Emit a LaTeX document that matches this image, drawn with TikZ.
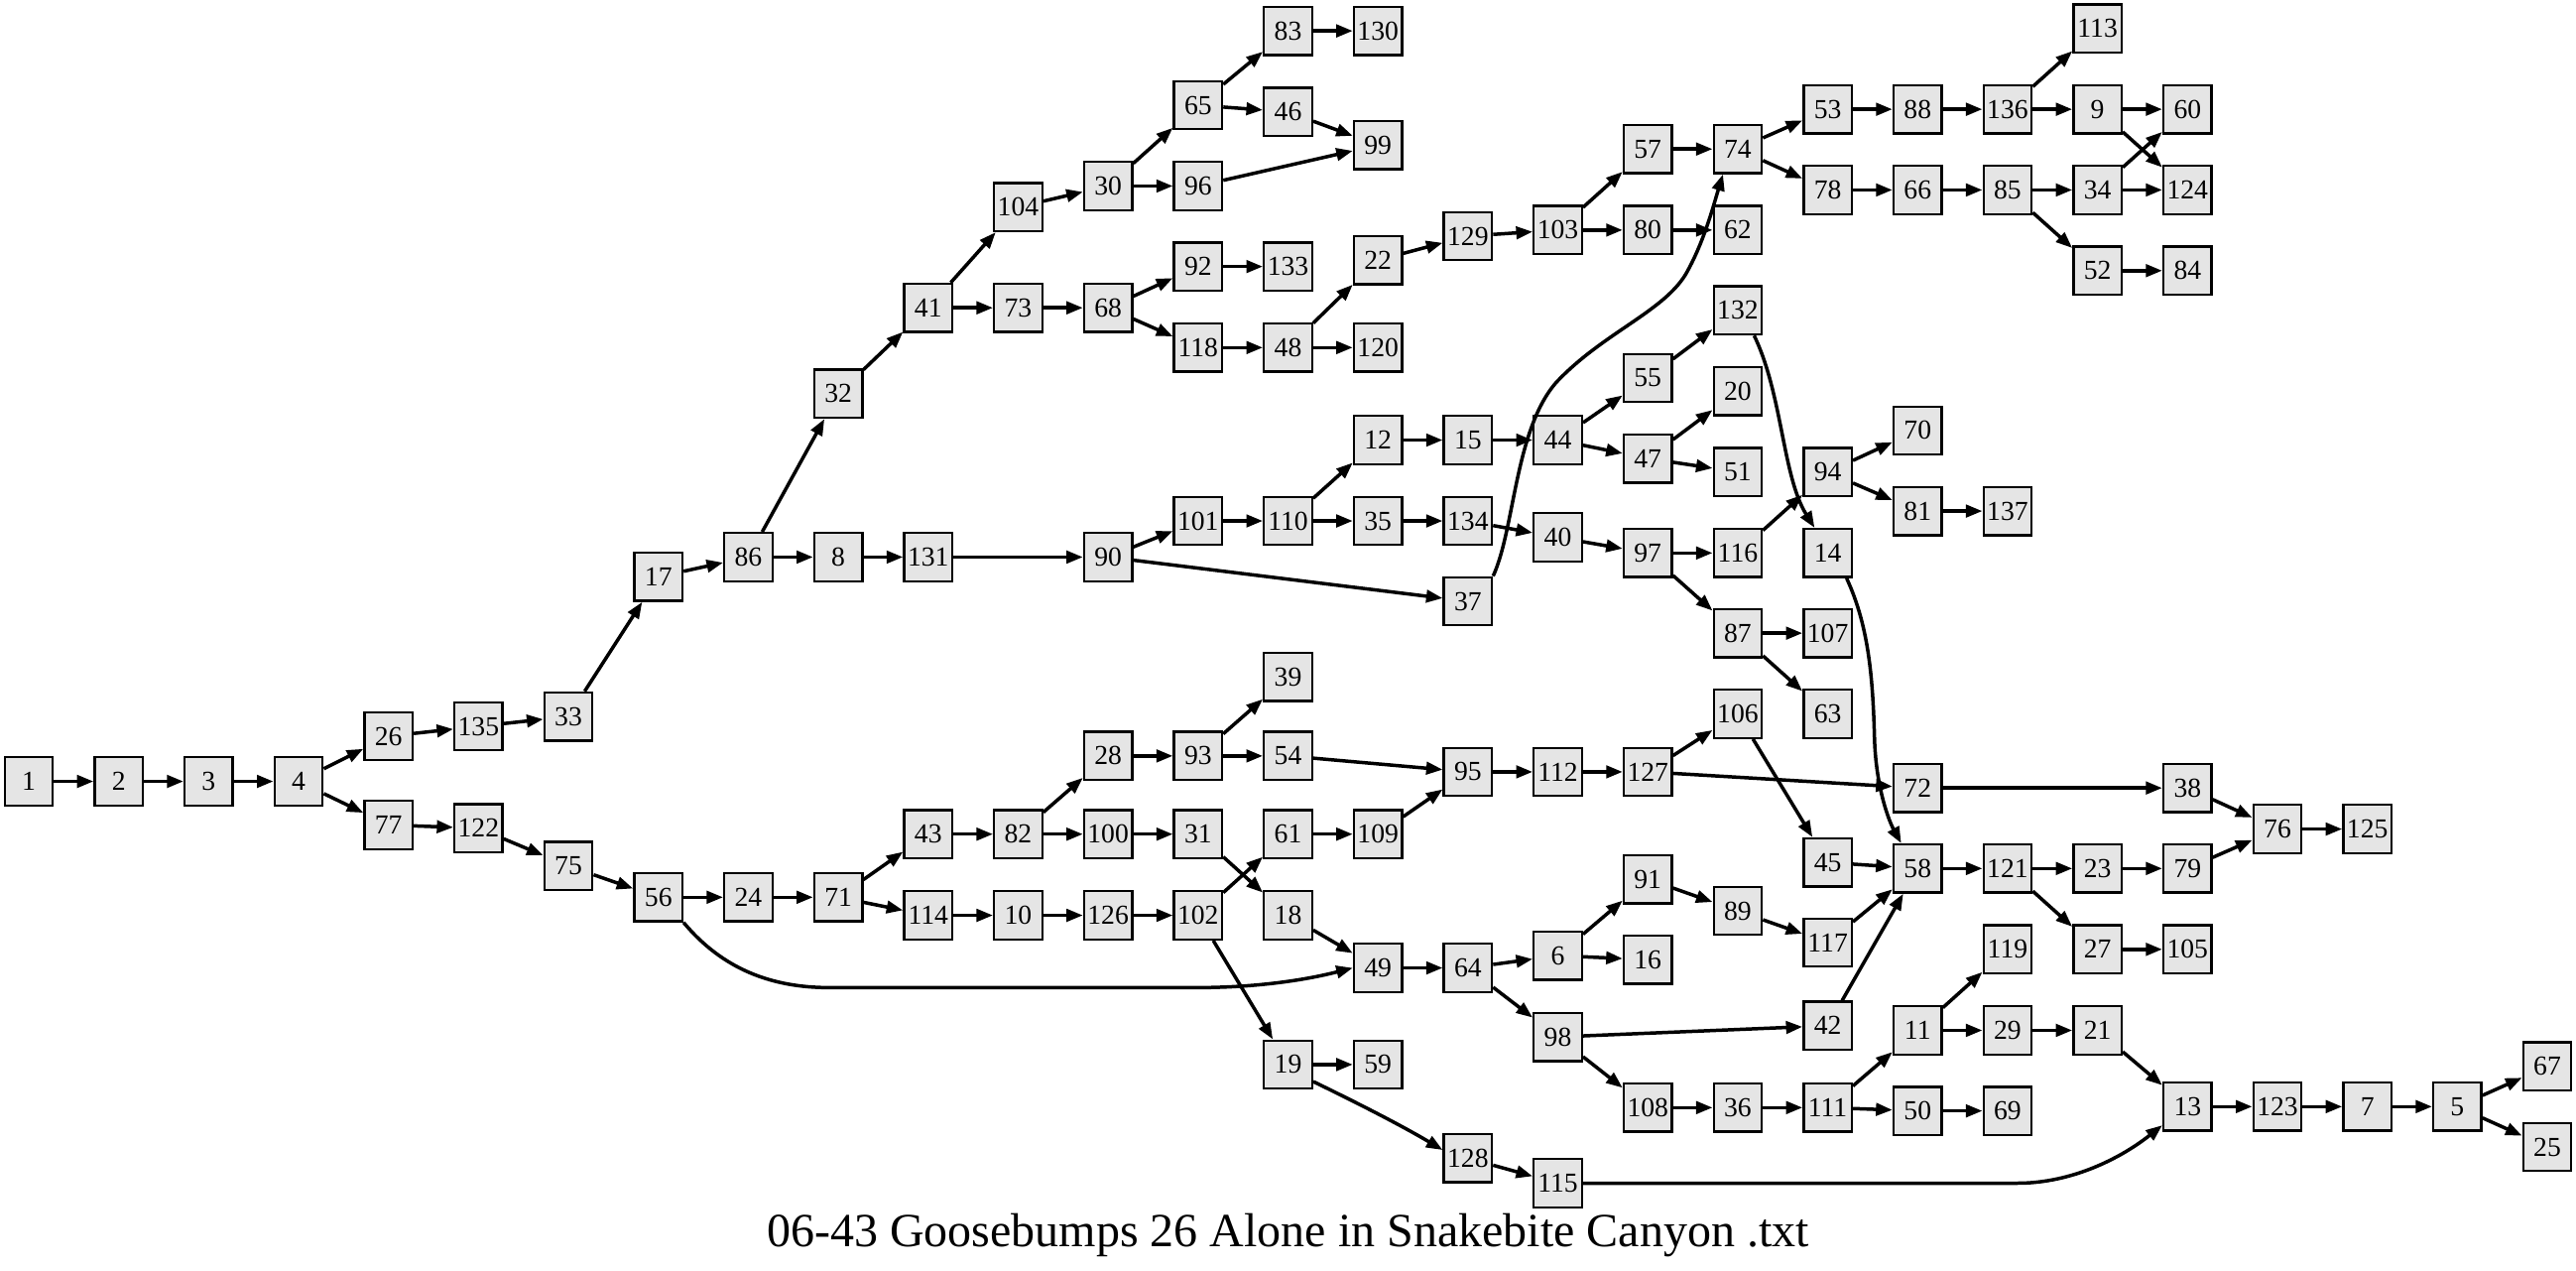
\documentclass[tikz,border=0pt]{standalone}
\usepackage{fontspec}
\setmainfont{Liberation Serif}
\usetikzlibrary{arrows.meta}
\tikzset{
  box/.style={draw, line width=0.8pt, fill=gray!20, minimum width=0.586cm, minimum height=0.586cm, inner sep=0pt, font=\fontsize{9.5}{10}\selectfont},
  edge/.style={draw, line width=1.2pt, -{Triangle[length=0.2cm,width=0.15cm]}},
  title/.style={font=\fontsize{16.5}{19}\selectfont}
}
\begin{document}
\begin{tikzpicture}[x=0.02cm, y=-0.02cm]
\useasboundingbox (0,0) rectangle (1568,773);
\foreach \n/\x/\y in {
1/17.5/475.5, 2/72.25/475.5, 3/127/475.5, 4/181.75/475.5, 5/1495.75/673.4,
6/948.25/581.5, 7/1441/673.4, 8/510.25/339, 9/1276.75/66.5, 10/619.75/557,
11/1167.25/627, 12/838.75/267.8, 13/1331.5/673.4, 14/1112.5/336.5, 15/893.5/267.8,
16/1003/584, 17/400.75/351, 18/784/557, 19/784/647.8, 20/1057.75/238,
21/1276.75/627, 22/838.75/158.3, 23/1276.75/528.5, 24/455.5/546, 25/1550.5/698,
26/236.5/448, 27/1276.75/577.7, 28/674.5/460, 29/1222/627, 30/674.5/113.2,
31/729.25/507.6, 32/510.25/239.6, 33/346/436, 34/1276.75/115.6, 35/838.75/317,
36/1057.75/674, 37/893.5/365.9, 38/1331.5/479.5, 39/784/412, 40/948.25/327,
41/565/187.3, 42/1112.5/624.2, 43/565/507.6, 44/948.25/267.8, 45/1112.5/524.8,
46/784/68.1, 47/1003/279, 48/784/211.5, 49/838.75/589, 50/1167.25/676,
51/1057.75/287.2, 52/1276.75/164.7, 53/1112.5/66.5, 54/784/460, 55/1003/230,
56/400.75/546, 57/1003/90.7, 58/1167.25/528.5, 59/838.75/647.8, 60/1331.5/66.5,
61/784/507.6, 62/1057.75/140, 63/1112.5/434.4, 64/893.5/589, 65/729.25/64,
66/1167.25/115.6, 67/1550.5/649, 68/674.5/187.3, 69/1222/676, 70/1167.25/262,
71/510.25/546, 72/1167.25/479.5, 73/619.75/187.3, 74/1057.75/90.7, 75/346/527,
76/1386.25/504.5, 77/236.5/502, 78/1112.5/115.6, 79/1331.5/528.5, 80/1003/140,
81/1167.25/311, 82/619.75/507.6, 83/784/18.8, 84/1331.5/164.7, 85/1222/115.6,
86/455.5/339, 87/1057.75/385.3, 88/1167.25/66.5, 89/1057.75/554.3, 90/674.5/339,
91/1003/535, 92/729.25/162.2, 93/729.25/460, 94/1112.5/287.3, 95/893.5/469.7,
96/729.25/113.2, 97/1003/336.5, 98/948.25/631, 99/838.75/88.3, 100/674.5/507.6,
101/729.25/317, 102/729.25/557, 103/948.25/140, 104/619.75/126, 105/1331.5/577.7,
106/1057.75/434.4, 107/1112.5/385.3, 108/1003/674, 109/838.75/507.6, 110/784/317,
111/1112.5/674, 112/948.25/469.7, 113/1276.75/17.3, 114/565/557, 115/948.25/720,
116/1057.75/336.5, 117/1112.5/573.6, 118/729.25/211.5, 119/1222/577.7, 120/838.75/211.5,
121/1222/528.5, 122/291.25/504, 123/1386.25/673.4, 124/1331.5/115.6, 125/1441/504.5,
126/674.5/557, 127/1003/469.7, 128/893.5/704.8, 129/893.5/143.7, 130/838.75/18.8,
131/565/339, 132/1057.75/188.9, 133/784/162.2, 134/893.5/317, 135/291.25/442,
136/1222/66.5, 137/1222/311}
  \node[box] (n\n) at (\x,\y) {\n};
\foreach \a/\b in {
1/2, 2/3, 3/4, 4/26, 4/77, 26/135, 135/33, 33/17, 17/86, 86/32, 86/8, 8/131, 131/90,
32/41, 41/104, 41/73, 104/30, 30/65, 30/96, 65/83, 65/46, 83/130, 46/99, 96/99,
73/68, 68/92, 68/118, 92/133, 118/48, 48/22, 48/120, 22/129, 129/103, 103/57, 103/80,
80/62, 57/74, 74/53, 74/78, 53/88, 88/136, 78/66, 66/85, 136/113, 136/9, 9/60, 9/124,
85/34, 85/52, 34/60, 34/124, 52/84, 90/101, 90/37, 101/110, 110/12, 110/35, 12/15,
15/44, 35/134, 134/40, 44/55, 44/47, 55/132, 47/20, 47/51, 40/97, 97/116, 97/87,
116/94, 94/70, 94/81, 81/137, 87/107, 87/63, 77/122, 122/75, 75/56, 56/24, 24/71,
71/43, 71/114, 43/82, 82/28, 82/100, 28/93, 93/39, 93/54, 54/95, 100/31, 31/18, 18/49,
114/10, 10/126, 126/102, 102/61, 102/19, 61/109, 109/95, 95/112, 112/127, 127/106,
127/72, 106/45, 45/58, 72/38, 38/76, 76/125, 58/121, 121/23, 121/27, 23/79, 79/76,
27/105, 49/64, 64/6, 64/98, 6/91, 6/16, 91/89, 89/117, 117/58, 98/42, 98/108, 42/58,
108/36, 36/111, 111/11, 111/50, 11/119, 11/29, 29/21, 21/13, 50/69, 13/123, 123/7,
7/5, 5/67, 5/25, 19/59, 128/115}
  \draw[edge] (n\a) -- (n\b);
% curved connectors
\draw[edge] (n37.north east) .. controls (922,322) and (922,262) .. (947,233)
  .. controls (975,203) and (1012,190) .. (1026,167)
  .. controls (1037,148) and (1043,125) .. ([xshift=-0.18cm]n74.south);
\draw[edge] ([xshift=0.2cm]n132.south) .. controls (1085,240) and (1085,290) .. ([xshift=-0.16cm]n14.north);
\draw[edge] ([xshift=0.23cm]n14.south) .. controls (1137,380) and (1140,410) .. (1141,450)
  .. controls (1142,480) and (1150,500) .. ([xshift=-0.2cm]n58.north);
\draw[edge] (n56.south east) .. controls (440,590) and (470,601) .. (505,601) -- (728,601)
  .. controls (770,601) and (800,595) .. (n49.west);
\draw[edge] (n115.east) -- (1228,720) .. controls (1262,720) and (1292,704) .. ([yshift=0.08cm]n13.south west);
\draw[edge] ([yshift=0.1cm]n19.south east) .. controls (830,673) and (855,686) .. ([yshift=0.1cm]n128.west);
\node[title] (ttl) at (784,752) {06-43 Goosebumps 26 Alone in Snakebite Canyon .txt};
\end{tikzpicture}
\end{document}
